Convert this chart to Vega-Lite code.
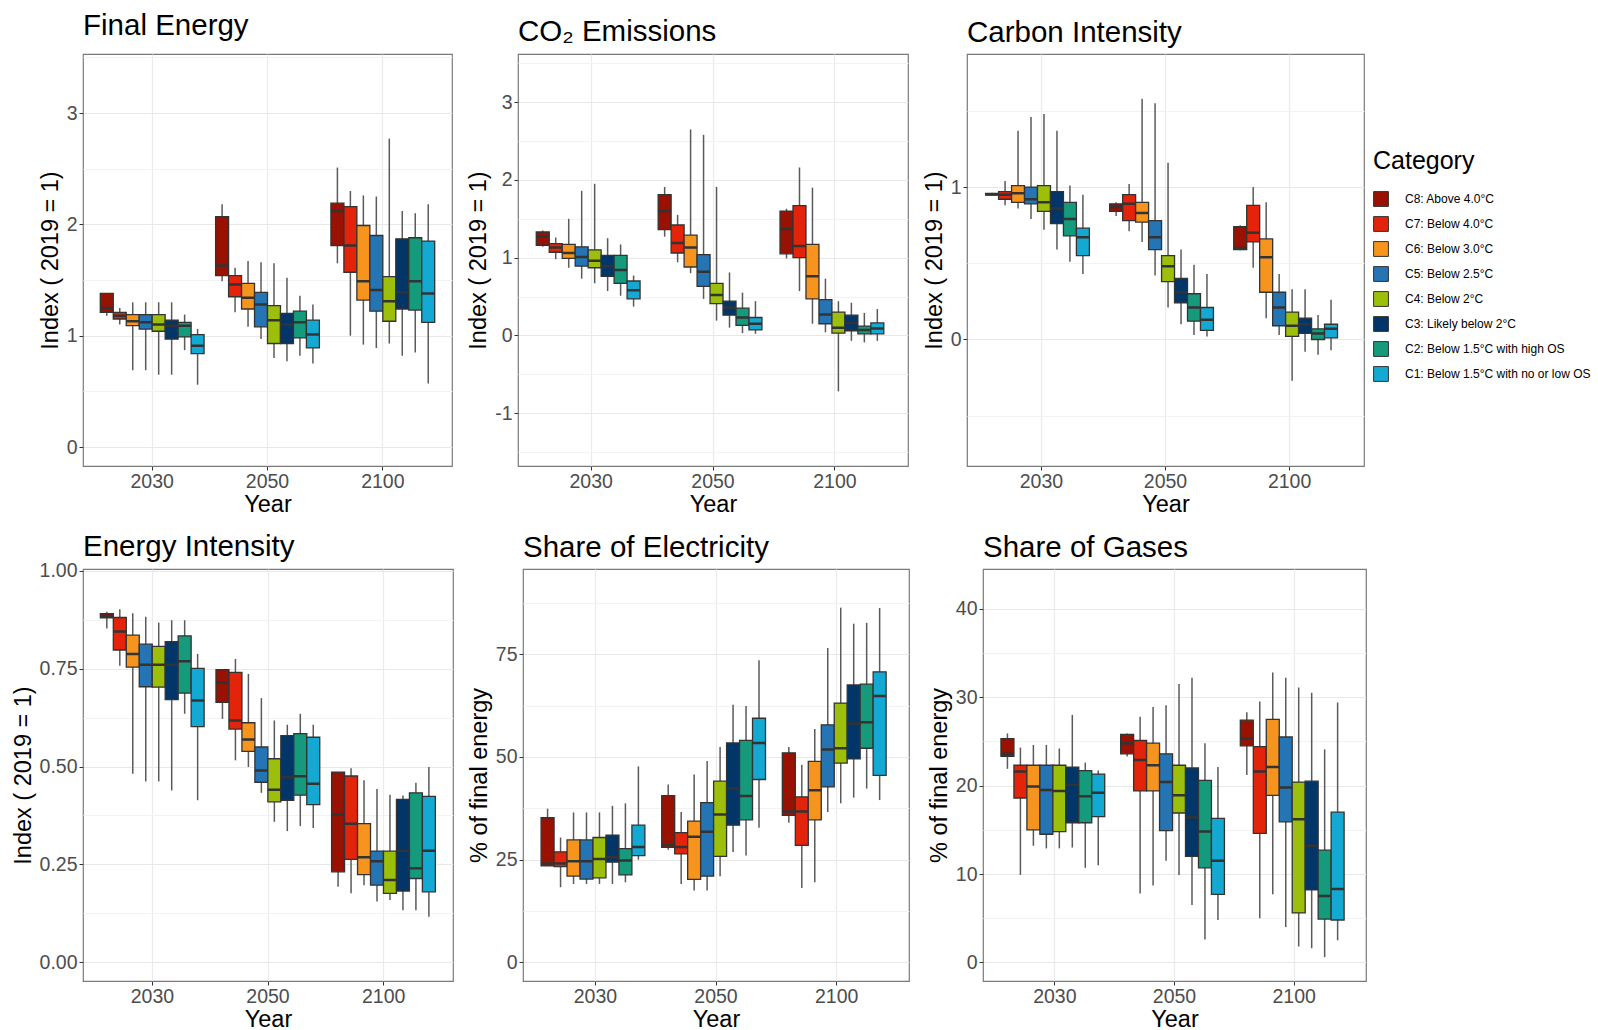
{
"$schema":"https://vega.github.io/schema/vega-lite/v6.json",
"padding":{"left":10,"top":10,"right":0,"bottom":0},
"background":"white",
"config":{
 "font":"Liberation Sans",
 "view":{"stroke":"#7a7a7a","strokeWidth":1.2},
 "axis":{"labelFont":"Liberation Sans","titleFont":"Liberation Sans","labelFontSize":19.5,"titleFontSize":23.5,"labelColor":"#4d4d4d","titleColor":"#000000","titleFontWeight":"normal","tickColor":"#333333","tickSize":4,"domain":false,"gridColor":"#ebebeb","gridWidth":1.2,"labelPadding":2},
 "axisX":{"titlePadding":2,"labelAngle":0},
 "axisY":{"titlePadding":4,"labelOverlap":false},
 "title":{"font":"Liberation Sans","fontSize":29.5,"fontWeight":"normal","anchor":"start","frame":"group","color":"#000000","offset":6},
 "legend":{"titleFont":"Liberation Sans","labelFont":"Liberation Sans","titleFontSize":25,"titleFontWeight":"normal","labelFontSize":12,"labelLimit":400,"labelColor":"#000000","titleColor":"#000000"}
},
"datasets":{
"fe":[
{"year":"2030","category":"C8: Above 4.0°C","min":1.18,"q1":1.21,"median":1.25,"q3":1.38,"max":1.38},
{"year":"2030","category":"C7: Below 4.0°C","min":1.10,"q1":1.15,"median":1.18,"q3":1.21,"max":1.25},
{"year":"2030","category":"C6: Below 3.0°C","min":0.69,"q1":1.09,"median":1.13,"q3":1.19,"max":1.30},
{"year":"2030","category":"C5: Below 2.5°C","min":0.69,"q1":1.06,"median":1.12,"q3":1.19,"max":1.30},
{"year":"2030","category":"C4: Below 2°C","min":0.65,"q1":1.04,"median":1.10,"q3":1.19,"max":1.30},
{"year":"2030","category":"C3: Likely below 2°C","min":0.65,"q1":0.97,"median":1.09,"q3":1.14,"max":1.30},
{"year":"2030","category":"C2: Below 1.5°C with high OS","min":0.87,"q1":0.99,"median":1.09,"q3":1.12,"max":1.19},
{"year":"2030","category":"C1: Below 1.5°C with no or low OS","min":0.56,"q1":0.84,"median":0.91,"q3":1.01,"max":1.06},
{"year":"2050","category":"C8: Above 4.0°C","min":1.49,"q1":1.54,"median":1.63,"q3":2.07,"max":2.18},
{"year":"2050","category":"C7: Below 4.0°C","min":1.21,"q1":1.35,"median":1.46,"q3":1.54,"max":1.61},
{"year":"2050","category":"C6: Below 3.0°C","min":1.08,"q1":1.24,"median":1.34,"q3":1.47,"max":1.67},
{"year":"2050","category":"C5: Below 2.5°C","min":0.97,"q1":1.08,"median":1.28,"q3":1.39,"max":1.66},
{"year":"2050","category":"C4: Below 2°C","min":0.80,"q1":0.93,"median":1.14,"q3":1.27,"max":1.65},
{"year":"2050","category":"C3: Likely below 2°C","min":0.77,"q1":0.93,"median":1.10,"q3":1.20,"max":1.52},
{"year":"2050","category":"C2: Below 1.5°C with high OS","min":0.82,"q1":0.98,"median":1.12,"q3":1.22,"max":1.36},
{"year":"2050","category":"C1: Below 1.5°C with no or low OS","min":0.75,"q1":0.89,"median":1.01,"q3":1.14,"max":1.28},
{"year":"2100","category":"C8: Above 4.0°C","min":1.65,"q1":1.81,"median":2.12,"q3":2.19,"max":2.51},
{"year":"2100","category":"C7: Below 4.0°C","min":1.00,"q1":1.57,"median":1.81,"q3":2.16,"max":2.30},
{"year":"2100","category":"C6: Below 3.0°C","min":0.92,"q1":1.32,"median":1.49,"q3":1.99,"max":2.26},
{"year":"2100","category":"C5: Below 2.5°C","min":0.89,"q1":1.22,"median":1.41,"q3":1.90,"max":2.25},
{"year":"2100","category":"C4: Below 2°C","min":0.93,"q1":1.13,"median":1.31,"q3":1.53,"max":2.77},
{"year":"2100","category":"C3: Likely below 2°C","min":0.82,"q1":1.24,"median":1.39,"q3":1.87,"max":2.12},
{"year":"2100","category":"C2: Below 1.5°C with high OS","min":0.85,"q1":1.23,"median":1.49,"q3":1.88,"max":2.10},
{"year":"2100","category":"C1: Below 1.5°C with no or low OS","min":0.57,"q1":1.12,"median":1.38,"q3":1.85,"max":2.18}
],
"co2":[
{"year":"2030","category":"C8: Above 4.0°C","min":1.14,"q1":1.16,"median":1.27,"q3":1.33,"max":1.35},
{"year":"2030","category":"C7: Below 4.0°C","min":0.98,"q1":1.07,"median":1.13,"q3":1.18,"max":1.26},
{"year":"2030","category":"C6: Below 3.0°C","min":0.87,"q1":0.99,"median":1.06,"q3":1.17,"max":1.50},
{"year":"2030","category":"C5: Below 2.5°C","min":0.73,"q1":0.89,"median":1.01,"q3":1.14,"max":1.86},
{"year":"2030","category":"C4: Below 2°C","min":0.67,"q1":0.87,"median":0.96,"q3":1.10,"max":1.95},
{"year":"2030","category":"C3: Likely below 2°C","min":0.57,"q1":0.76,"median":0.89,"q3":1.03,"max":1.25},
{"year":"2030","category":"C2: Below 1.5°C with high OS","min":0.51,"q1":0.67,"median":0.84,"q3":1.03,"max":1.17},
{"year":"2030","category":"C1: Below 1.5°C with no or low OS","min":0.37,"q1":0.47,"median":0.58,"q3":0.70,"max":0.77},
{"year":"2050","category":"C8: Above 4.0°C","min":1.27,"q1":1.36,"median":1.60,"q3":1.81,"max":1.91},
{"year":"2050","category":"C7: Below 4.0°C","min":0.94,"q1":1.06,"median":1.19,"q3":1.42,"max":1.55},
{"year":"2050","category":"C6: Below 3.0°C","min":0.80,"q1":0.88,"median":1.13,"q3":1.29,"max":2.65},
{"year":"2050","category":"C5: Below 2.5°C","min":0.47,"q1":0.63,"median":0.82,"q3":1.04,"max":2.58},
{"year":"2050","category":"C4: Below 2°C","min":0.19,"q1":0.41,"median":0.52,"q3":0.67,"max":1.91},
{"year":"2050","category":"C3: Likely below 2°C","min":0.10,"q1":0.26,"median":0.36,"q3":0.44,"max":0.81},
{"year":"2050","category":"C2: Below 1.5°C with high OS","min":0.03,"q1":0.13,"median":0.23,"q3":0.35,"max":0.55},
{"year":"2050","category":"C1: Below 1.5°C with no or low OS","min":0.02,"q1":0.07,"median":0.15,"q3":0.23,"max":0.44},
{"year":"2100","category":"C8: Above 4.0°C","min":0.99,"q1":1.05,"median":1.37,"q3":1.60,"max":1.63},
{"year":"2100","category":"C7: Below 4.0°C","min":0.57,"q1":1.00,"median":1.15,"q3":1.67,"max":2.16},
{"year":"2100","category":"C6: Below 3.0°C","min":0.15,"q1":0.47,"median":0.76,"q3":1.17,"max":1.90},
{"year":"2100","category":"C5: Below 2.5°C","min":0.04,"q1":0.15,"median":0.27,"q3":0.46,"max":0.73},
{"year":"2100","category":"C4: Below 2°C","min":-0.72,"q1":0.03,"median":0.10,"q3":0.30,"max":0.44},
{"year":"2100","category":"C3: Likely below 2°C","min":-0.07,"q1":0.06,"median":0.16,"q3":0.26,"max":0.42},
{"year":"2100","category":"C2: Below 1.5°C with high OS","min":-0.09,"q1":0.02,"median":0.07,"q3":0.12,"max":0.29},
{"year":"2100","category":"C1: Below 1.5°C with no or low OS","min":-0.07,"q1":0.02,"median":0.09,"q3":0.16,"max":0.34}
],
"ci":[
{"year":"2030","category":"C8: Above 4.0°C","min":0.945,"q1":0.948,"median":0.953,"q3":0.958,"max":0.962},
{"year":"2030","category":"C7: Below 4.0°C","min":0.88,"q1":0.92,"median":0.95,"q3":0.97,"max":1.04},
{"year":"2030","category":"C6: Below 3.0°C","min":0.86,"q1":0.90,"median":0.96,"q3":1.01,"max":1.37},
{"year":"2030","category":"C5: Below 2.5°C","min":0.79,"q1":0.89,"median":0.92,"q3":1.00,"max":1.46},
{"year":"2030","category":"C4: Below 2°C","min":0.72,"q1":0.84,"median":0.90,"q3":1.01,"max":1.48},
{"year":"2030","category":"C3: Likely below 2°C","min":0.59,"q1":0.76,"median":0.86,"q3":0.97,"max":1.37},
{"year":"2030","category":"C2: Below 1.5°C with high OS","min":0.51,"q1":0.68,"median":0.79,"q3":0.90,"max":1.01},
{"year":"2030","category":"C1: Below 1.5°C with no or low OS","min":0.43,"q1":0.55,"median":0.67,"q3":0.73,"max":0.95},
{"year":"2050","category":"C8: Above 4.0°C","min":0.81,"q1":0.84,"median":0.87,"q3":0.89,"max":0.90},
{"year":"2050","category":"C7: Below 4.0°C","min":0.71,"q1":0.78,"median":0.89,"q3":0.95,"max":1.02},
{"year":"2050","category":"C6: Below 3.0°C","min":0.64,"q1":0.77,"median":0.83,"q3":0.90,"max":1.58},
{"year":"2050","category":"C5: Below 2.5°C","min":0.42,"q1":0.59,"median":0.67,"q3":0.78,"max":1.55},
{"year":"2050","category":"C4: Below 2°C","min":0.21,"q1":0.38,"median":0.48,"q3":0.55,"max":1.16},
{"year":"2050","category":"C3: Likely below 2°C","min":0.10,"q1":0.24,"median":0.31,"q3":0.40,"max":0.59},
{"year":"2050","category":"C2: Below 1.5°C with high OS","min":0.03,"q1":0.12,"median":0.21,"q3":0.30,"max":0.49},
{"year":"2050","category":"C1: Below 1.5°C with no or low OS","min":0.02,"q1":0.06,"median":0.13,"q3":0.21,"max":0.43},
{"year":"2100","category":"C8: Above 4.0°C","min":0.585,"q1":0.59,"median":0.60,"q3":0.74,"max":0.75},
{"year":"2100","category":"C7: Below 4.0°C","min":0.47,"q1":0.64,"median":0.70,"q3":0.88,"max":1.00},
{"year":"2100","category":"C6: Below 3.0°C","min":0.14,"q1":0.31,"median":0.54,"q3":0.66,"max":0.90},
{"year":"2100","category":"C5: Below 2.5°C","min":0.03,"q1":0.09,"median":0.21,"q3":0.31,"max":0.43},
{"year":"2100","category":"C4: Below 2°C","min":-0.27,"q1":0.02,"median":0.09,"q3":0.18,"max":0.33},
{"year":"2100","category":"C3: Likely below 2°C","min":-0.08,"q1":0.04,"median":0.10,"q3":0.14,"max":0.33},
{"year":"2100","category":"C2: Below 1.5°C with high OS","min":-0.10,"q1":0.00,"median":0.04,"q3":0.07,"max":0.16},
{"year":"2100","category":"C1: Below 1.5°C with no or low OS","min":-0.07,"q1":0.01,"median":0.07,"q3":0.10,"max":0.26}
],
"ei":[
{"year":"2030","category":"C8: Above 4.0°C","min":0.853,"q1":0.880,"median":0.885,"q3":0.891,"max":0.896},
{"year":"2030","category":"C7: Below 4.0°C","min":0.758,"q1":0.798,"median":0.845,"q3":0.881,"max":0.902},
{"year":"2030","category":"C6: Below 3.0°C","min":0.482,"q1":0.754,"median":0.788,"q3":0.836,"max":0.892},
{"year":"2030","category":"C5: Below 2.5°C","min":0.462,"q1":0.704,"median":0.760,"q3":0.813,"max":0.883},
{"year":"2030","category":"C4: Below 2°C","min":0.462,"q1":0.703,"median":0.760,"q3":0.807,"max":0.868},
{"year":"2030","category":"C3: Likely below 2°C","min":0.439,"q1":0.671,"median":0.760,"q3":0.819,"max":0.874},
{"year":"2030","category":"C2: Below 1.5°C with high OS","min":0.635,"q1":0.688,"median":0.769,"q3":0.834,"max":0.874},
{"year":"2030","category":"C1: Below 1.5°C with no or low OS","min":0.414,"q1":0.602,"median":0.669,"q3":0.751,"max":0.788},
{"year":"2050","category":"C8: Above 4.0°C","min":0.622,"q1":0.664,"median":0.715,"q3":0.748,"max":0.749},
{"year":"2050","category":"C7: Below 4.0°C","min":0.516,"q1":0.596,"median":0.618,"q3":0.741,"max":0.775},
{"year":"2050","category":"C6: Below 3.0°C","min":0.499,"q1":0.539,"median":0.569,"q3":0.612,"max":0.737},
{"year":"2050","category":"C5: Below 2.5°C","min":0.433,"q1":0.460,"median":0.490,"q3":0.550,"max":0.675},
{"year":"2050","category":"C4: Below 2°C","min":0.359,"q1":0.410,"median":0.441,"q3":0.520,"max":0.618},
{"year":"2050","category":"C3: Likely below 2°C","min":0.335,"q1":0.414,"median":0.473,"q3":0.579,"max":0.607},
{"year":"2050","category":"C2: Below 1.5°C with high OS","min":0.348,"q1":0.427,"median":0.475,"q3":0.584,"max":0.635},
{"year":"2050","category":"C1: Below 1.5°C with no or low OS","min":0.343,"q1":0.403,"median":0.456,"q3":0.575,"max":0.607},
{"year":"2100","category":"C8: Above 4.0°C","min":0.193,"q1":0.231,"median":0.377,"q3":0.486,"max":0.486},
{"year":"2100","category":"C7: Below 4.0°C","min":0.176,"q1":0.263,"median":0.354,"q3":0.476,"max":0.496},
{"year":"2100","category":"C6: Below 3.0°C","min":0.197,"q1":0.224,"median":0.268,"q3":0.354,"max":0.465},
{"year":"2100","category":"C5: Below 2.5°C","min":0.155,"q1":0.197,"median":0.258,"q3":0.284,"max":0.443},
{"year":"2100","category":"C4: Below 2°C","min":0.159,"q1":0.176,"median":0.210,"q3":0.284,"max":0.428},
{"year":"2100","category":"C3: Likely below 2°C","min":0.133,"q1":0.182,"median":0.285,"q3":0.416,"max":0.426},
{"year":"2100","category":"C2: Below 1.5°C with high OS","min":0.133,"q1":0.214,"median":0.240,"q3":0.433,"max":0.459},
{"year":"2100","category":"C1: Below 1.5°C with no or low OS","min":0.116,"q1":0.180,"median":0.285,"q3":0.424,"max":0.499}
],
"se":[
{"year":"2030","category":"C8: Above 4.0°C","min":23.5,"q1":23.5,"median":24.1,"q3":35.2,"max":37.4},
{"year":"2030","category":"C7: Below 4.0°C","min":18.3,"q1":23.3,"median":24.1,"q3":26.9,"max":30.4},
{"year":"2030","category":"C6: Below 3.0°C","min":19.1,"q1":21.0,"median":24.6,"q3":29.8,"max":36.5},
{"year":"2030","category":"C5: Below 2.5°C","min":19.1,"q1":20.3,"median":24.6,"q3":29.8,"max":36.5},
{"year":"2030","category":"C4: Below 2°C","min":19.1,"q1":20.6,"median":25.2,"q3":30.4,"max":36.5},
{"year":"2030","category":"C3: Likely below 2°C","min":19.1,"q1":24.4,"median":25.6,"q3":31.0,"max":38.1},
{"year":"2030","category":"C2: Below 1.5°C with high OS","min":19.5,"q1":21.3,"median":24.8,"q3":27.7,"max":38.7},
{"year":"2030","category":"C1: Below 1.5°C with no or low OS","min":25.0,"q1":26.0,"median":28.1,"q3":33.4,"max":47.7},
{"year":"2050","category":"C8: Above 4.0°C","min":27.4,"q1":28.0,"median":28.5,"q3":40.6,"max":43.3},
{"year":"2050","category":"C7: Below 4.0°C","min":19.1,"q1":26.4,"median":28.1,"q3":31.6,"max":36.6},
{"year":"2050","category":"C6: Below 3.0°C","min":17.5,"q1":20.2,"median":30.6,"q3":34.4,"max":45.7},
{"year":"2050","category":"C5: Below 2.5°C","min":17.5,"q1":21.0,"median":31.8,"q3":38.9,"max":49.0},
{"year":"2050","category":"C4: Below 2°C","min":21.0,"q1":25.8,"median":36.0,"q3":44.1,"max":52.4},
{"year":"2050","category":"C3: Likely below 2°C","min":26.9,"q1":33.4,"median":42.3,"q3":53.4,"max":62.7},
{"year":"2050","category":"C2: Below 1.5°C with high OS","min":26.0,"q1":34.7,"median":40.5,"q3":54.0,"max":62.4},
{"year":"2050","category":"C1: Below 1.5°C with no or low OS","min":32.8,"q1":44.5,"median":53.4,"q3":59.4,"max":73.5},
{"year":"2100","category":"C8: Above 4.0°C","min":34.0,"q1":35.8,"median":36.7,"q3":51.0,"max":52.4},
{"year":"2100","category":"C7: Below 4.0°C","min":18.1,"q1":28.5,"median":36.7,"q3":40.3,"max":48.1},
{"year":"2100","category":"C6: Below 3.0°C","min":19.5,"q1":34.7,"median":41.9,"q3":48.9,"max":56.8},
{"year":"2100","category":"C5: Below 2.5°C","min":36.6,"q1":42.7,"median":51.8,"q3":57.8,"max":76.5},
{"year":"2100","category":"C4: Below 2°C","min":38.7,"q1":48.5,"median":52.1,"q3":63.1,"max":86.3},
{"year":"2100","category":"C3: Likely below 2°C","min":40.1,"q1":49.5,"median":58.1,"q3":67.5,"max":82.4},
{"year":"2100","category":"C2: Below 1.5°C with high OS","min":42.3,"q1":52.1,"median":58.4,"q3":67.7,"max":82.6},
{"year":"2100","category":"C1: Below 1.5°C with no or low OS","min":39.5,"q1":45.5,"median":64.8,"q3":70.7,"max":86.2}
],
"sg":[
{"year":"2030","category":"C8: Above 4.0°C","min":21.9,"q1":23.3,"median":23.6,"q3":25.3,"max":25.9},
{"year":"2030","category":"C7: Below 4.0°C","min":9.9,"q1":18.6,"median":21.6,"q3":22.3,"max":24.3},
{"year":"2030","category":"C6: Below 3.0°C","min":13.2,"q1":15.0,"median":19.9,"q3":22.3,"max":24.6},
{"year":"2030","category":"C5: Below 2.5°C","min":12.9,"q1":14.5,"median":19.5,"q3":22.3,"max":24.6},
{"year":"2030","category":"C4: Below 2°C","min":12.9,"q1":14.8,"median":19.4,"q3":22.3,"max":24.2},
{"year":"2030","category":"C3: Likely below 2°C","min":13.0,"q1":15.8,"median":20.1,"q3":22.1,"max":28.0},
{"year":"2030","category":"C2: Below 1.5°C with high OS","min":10.7,"q1":15.8,"median":18.8,"q3":21.7,"max":22.6},
{"year":"2030","category":"C1: Below 1.5°C with no or low OS","min":11.0,"q1":16.5,"median":19.2,"q3":21.3,"max":21.7},
{"year":"2050","category":"C8: Above 4.0°C","min":23.3,"q1":23.6,"median":24.8,"q3":25.8,"max":25.9},
{"year":"2050","category":"C7: Below 4.0°C","min":7.8,"q1":19.4,"median":22.9,"q3":25.1,"max":27.8},
{"year":"2050","category":"C6: Below 3.0°C","min":8.7,"q1":19.4,"median":22.3,"q3":24.8,"max":28.9},
{"year":"2050","category":"C5: Below 2.5°C","min":11.5,"q1":14.9,"median":20.4,"q3":23.6,"max":29.1},
{"year":"2050","category":"C4: Below 2°C","min":9.9,"q1":16.9,"median":18.9,"q3":22.3,"max":31.5},
{"year":"2050","category":"C3: Likely below 2°C","min":6.5,"q1":12.0,"median":16.4,"q3":22.0,"max":32.2},
{"year":"2050","category":"C2: Below 1.5°C with high OS","min":2.6,"q1":10.7,"median":14.8,"q3":20.6,"max":24.8},
{"year":"2050","category":"C1: Below 1.5°C with no or low OS","min":4.8,"q1":7.7,"median":11.5,"q3":16.3,"max":22.1},
{"year":"2100","category":"C8: Above 4.0°C","min":21.2,"q1":24.5,"median":25.3,"q3":27.4,"max":28.3},
{"year":"2100","category":"C7: Below 4.0°C","min":5.0,"q1":14.6,"median":21.6,"q3":24.4,"max":29.5},
{"year":"2100","category":"C6: Below 3.0°C","min":7.7,"q1":18.9,"median":22.1,"q3":27.5,"max":32.8},
{"year":"2100","category":"C5: Below 2.5°C","min":4.0,"q1":15.9,"median":19.8,"q3":25.5,"max":32.2},
{"year":"2100","category":"C4: Below 2°C","min":1.8,"q1":5.6,"median":16.2,"q3":20.4,"max":31.1},
{"year":"2100","category":"C3: Likely below 2°C","min":1.6,"q1":8.2,"median":13.2,"q3":20.5,"max":30.5},
{"year":"2100","category":"C2: Below 1.5°C with high OS","min":0.6,"q1":4.9,"median":7.5,"q3":12.7,"max":24.1},
{"year":"2100","category":"C1: Below 1.5°C with no or low OS","min":2.5,"q1":4.8,"median":8.3,"q3":17.0,"max":29.4}
]
},
"columns":3,
"align":"none",
"spacing":{"row":14,"column":12},
"concat":[
{"title":"Final Energy","width":369,"height":412,"data":{"name":"fe"},
 "encoding":{"x":{"field":"year","type":"nominal","title":"Year","scale":{"paddingInner":0.1,"paddingOuter":0.15},"axis":{"bandPosition":0.5,"grid":true}},
  "xOffset":{"field":"category","type":"nominal","scale":{"domain":["C8: Above 4.0°C","C7: Below 4.0°C","C6: Below 3.0°C","C5: Below 2.5°C","C4: Below 2°C","C3: Likely below 2°C","C2: Below 1.5°C with high OS","C1: Below 1.5°C with no or low OS"],"paddingInner":0,"paddingOuter":0}}},
 "layer":[
  {"mark":{"type":"rule","color":"#5a5a5a","strokeWidth":1.5},"encoding":{"y":{"field":"min","type":"quantitative","title":"Index ( 2019 = 1)","scale":{"domain":[-0.17,3.53],"nice":false,"zero":false},"axis":{"values":[0,0.5,1,1.5,2,2.5,3,3.5],"labelExpr":"datum.value % 1 === 0 ? '' + datum.value : ''","gridColor":{"condition":{"test":"datum.value % 1 === 0","value":"#e8e8e8"},"value":"#f3f3f3"},"tickOpacity":{"condition":{"test":"datum.value % 1 === 0","value":1},"value":0}}},"y2":{"field":"max"}}},
  {"mark":{"type":"bar","stroke":"#333333","strokeWidth":1.3},"encoding":{"y":{"field":"q1","type":"quantitative","title":"Index ( 2019 = 1)"},"y2":{"field":"q3"},"color":{"field":"category","type":"nominal","scale":{"domain":["C8: Above 4.0°C","C7: Below 4.0°C","C6: Below 3.0°C","C5: Below 2.5°C","C4: Below 2°C","C3: Likely below 2°C","C2: Below 1.5°C with high OS","C1: Below 1.5°C with no or low OS"],"range":["#991100","#e3230a","#f7941d","#2574b3","#9bbf0b","#023669","#159a7b","#14a9d2"]},"legend":{"title":"Category","orient":"none","legendX":1290,"legendY":95,"symbolType":"square","symbolSize":220,"symbolStrokeColor":"#333333","symbolStrokeWidth":1,"rowPadding":5,"labelOffset":16,"titlePadding":17}}}},
  {"mark":{"type":"bar","fill":"#333333","stroke":"#333333","strokeWidth":2.5},"encoding":{"y":{"field":"median","type":"quantitative","title":"Index ( 2019 = 1)"},"y2":{"field":"median"}}}
 ]},
{"title":"CO₂ Emissions","width":390,"height":412,"data":{"name":"co2"},
 "encoding":{"x":{"field":"year","type":"nominal","title":"Year","scale":{"paddingInner":0.1,"paddingOuter":0.15},"axis":{"bandPosition":0.5,"grid":true}},
  "xOffset":{"field":"category","type":"nominal","scale":{"domain":["C8: Above 4.0°C","C7: Below 4.0°C","C6: Below 3.0°C","C5: Below 2.5°C","C4: Below 2°C","C3: Likely below 2°C","C2: Below 1.5°C with high OS","C1: Below 1.5°C with no or low OS"],"paddingInner":0,"paddingOuter":0}}},
 "layer":[
  {"mark":{"type":"rule","color":"#5a5a5a","strokeWidth":1.5},"encoding":{"y":{"field":"min","type":"quantitative","title":"Index ( 2019 = 1)","scale":{"domain":[-1.68,3.62],"nice":false,"zero":false},"axis":{"values":[-1.5,-1,-0.5,0,0.5,1,1.5,2,2.5,3,3.5],"labelExpr":"datum.value % 1 === 0 ? '' + datum.value : ''","gridColor":{"condition":{"test":"datum.value % 1 === 0","value":"#e8e8e8"},"value":"#f3f3f3"},"tickOpacity":{"condition":{"test":"datum.value % 1 === 0","value":1},"value":0}}},"y2":{"field":"max"}}},
  {"mark":{"type":"bar","stroke":"#333333","strokeWidth":1.3},"encoding":{"y":{"field":"q1","type":"quantitative","title":"Index ( 2019 = 1)"},"y2":{"field":"q3"},"color":{"field":"category","type":"nominal","scale":{"domain":["C8: Above 4.0°C","C7: Below 4.0°C","C6: Below 3.0°C","C5: Below 2.5°C","C4: Below 2°C","C3: Likely below 2°C","C2: Below 1.5°C with high OS","C1: Below 1.5°C with no or low OS"],"range":["#991100","#e3230a","#f7941d","#2574b3","#9bbf0b","#023669","#159a7b","#14a9d2"]},"legend":{"title":"Category","orient":"none","legendX":1290,"legendY":95,"symbolType":"square","symbolSize":220,"symbolStrokeColor":"#333333","symbolStrokeWidth":1,"rowPadding":5,"labelOffset":16,"titlePadding":17}}}},
  {"mark":{"type":"bar","fill":"#333333","stroke":"#333333","strokeWidth":2.5},"encoding":{"y":{"field":"median","type":"quantitative","title":"Index ( 2019 = 1)"},"y2":{"field":"median"}}}
 ]},
{"title":"Carbon Intensity","width":397,"height":412,"data":{"name":"ci"},
 "encoding":{"x":{"field":"year","type":"nominal","title":"Year","scale":{"paddingInner":0.1,"paddingOuter":0.15},"axis":{"bandPosition":0.5,"grid":true}},
  "xOffset":{"field":"category","type":"nominal","scale":{"domain":["C8: Above 4.0°C","C7: Below 4.0°C","C6: Below 3.0°C","C5: Below 2.5°C","C4: Below 2°C","C3: Likely below 2°C","C2: Below 1.5°C with high OS","C1: Below 1.5°C with no or low OS"],"paddingInner":0,"paddingOuter":0}}},
 "layer":[
  {"mark":{"type":"rule","color":"#5a5a5a","strokeWidth":1.5},"encoding":{"y":{"field":"min","type":"quantitative","title":"Index ( 2019 = 1)","scale":{"domain":[-0.83,1.873],"nice":false,"zero":false},"axis":{"values":[-0.5,0,0.5,1,1.5],"labelExpr":"datum.value % 1 === 0 ? '' + datum.value : ''","gridColor":{"condition":{"test":"datum.value % 1 === 0","value":"#e8e8e8"},"value":"#f3f3f3"},"tickOpacity":{"condition":{"test":"datum.value % 1 === 0","value":1},"value":0}}},"y2":{"field":"max"}}},
  {"mark":{"type":"bar","stroke":"#333333","strokeWidth":1.3},"encoding":{"y":{"field":"q1","type":"quantitative","title":"Index ( 2019 = 1)"},"y2":{"field":"q3"},"color":{"field":"category","type":"nominal","scale":{"domain":["C8: Above 4.0°C","C7: Below 4.0°C","C6: Below 3.0°C","C5: Below 2.5°C","C4: Below 2°C","C3: Likely below 2°C","C2: Below 1.5°C with high OS","C1: Below 1.5°C with no or low OS"],"range":["#991100","#e3230a","#f7941d","#2574b3","#9bbf0b","#023669","#159a7b","#14a9d2"]},"legend":{"title":"Category","orient":"none","legendX":1290,"legendY":95,"symbolType":"square","symbolSize":220,"symbolStrokeColor":"#333333","symbolStrokeWidth":1,"rowPadding":5,"labelOffset":16,"titlePadding":17}}}},
  {"mark":{"type":"bar","fill":"#333333","stroke":"#333333","strokeWidth":2.5},"encoding":{"y":{"field":"median","type":"quantitative","title":"Index ( 2019 = 1)"},"y2":{"field":"median"}}}
 ]},
{"title":{"text":"Energy Intensity","offset":-2},"width":370,"height":412,"data":{"name":"ei"},
 "encoding":{"x":{"field":"year","type":"nominal","title":"Year","scale":{"paddingInner":0.1,"paddingOuter":0.15},"axis":{"bandPosition":0.5,"grid":true}},
  "xOffset":{"field":"category","type":"nominal","scale":{"domain":["C8: Above 4.0°C","C7: Below 4.0°C","C6: Below 3.0°C","C5: Below 2.5°C","C4: Below 2°C","C3: Likely below 2°C","C2: Below 1.5°C with high OS","C1: Below 1.5°C with no or low OS"],"paddingInner":0,"paddingOuter":0}}},
 "layer":[
  {"mark":{"type":"rule","color":"#5a5a5a","strokeWidth":1.5},"encoding":{"y":{"field":"min","type":"quantitative","title":"Index ( 2019 = 1)","scale":{"domain":[-0.048,1.005],"nice":false,"zero":false},"axis":{"values":[0,0.125,0.25,0.375,0.5,0.625,0.75,0.875,1],"format":".2f","labelExpr":"(datum.value * 4) % 1 === 0 ? datum.label : ''","gridColor":{"condition":{"test":"(datum.value * 4) % 1 === 0","value":"#e8e8e8"},"value":"#f3f3f3"},"tickOpacity":{"condition":{"test":"(datum.value * 4) % 1 === 0","value":1},"value":0}}},"y2":{"field":"max"}}},
  {"mark":{"type":"bar","stroke":"#333333","strokeWidth":1.3},"encoding":{"y":{"field":"q1","type":"quantitative","title":"Index ( 2019 = 1)"},"y2":{"field":"q3"},"color":{"field":"category","type":"nominal","scale":{"domain":["C8: Above 4.0°C","C7: Below 4.0°C","C6: Below 3.0°C","C5: Below 2.5°C","C4: Below 2°C","C3: Likely below 2°C","C2: Below 1.5°C with high OS","C1: Below 1.5°C with no or low OS"],"range":["#991100","#e3230a","#f7941d","#2574b3","#9bbf0b","#023669","#159a7b","#14a9d2"]},"legend":{"title":"Category","orient":"none","legendX":1290,"legendY":95,"symbolType":"square","symbolSize":220,"symbolStrokeColor":"#333333","symbolStrokeWidth":1,"rowPadding":5,"labelOffset":16,"titlePadding":17}}}},
  {"mark":{"type":"bar","fill":"#333333","stroke":"#333333","strokeWidth":2.5},"encoding":{"y":{"field":"median","type":"quantitative","title":"Index ( 2019 = 1)"},"y2":{"field":"median"}}}
 ]},
{"title":"Share of Electricity","width":386,"height":412,"data":{"name":"se"},
 "encoding":{"x":{"field":"year","type":"nominal","title":"Year","scale":{"paddingInner":0.1,"paddingOuter":0.15},"axis":{"bandPosition":0.5,"grid":true}},
  "xOffset":{"field":"category","type":"nominal","scale":{"domain":["C8: Above 4.0°C","C7: Below 4.0°C","C6: Below 3.0°C","C5: Below 2.5°C","C4: Below 2°C","C3: Likely below 2°C","C2: Below 1.5°C with high OS","C1: Below 1.5°C with no or low OS"],"paddingInner":0,"paddingOuter":0}}},
 "layer":[
  {"mark":{"type":"rule","color":"#5a5a5a","strokeWidth":1.5},"encoding":{"y":{"field":"min","type":"quantitative","title":"% of final energy","scale":{"domain":[-4.5,95.7],"nice":false,"zero":false},"axis":{"values":[0,12.5,25,37.5,50,62.5,75,87.5],"labelExpr":"datum.value % 25 === 0 ? '' + datum.value : ''","gridColor":{"condition":{"test":"datum.value % 25 === 0","value":"#e8e8e8"},"value":"#f3f3f3"},"tickOpacity":{"condition":{"test":"datum.value % 25 === 0","value":1},"value":0}}},"y2":{"field":"max"}}},
  {"mark":{"type":"bar","stroke":"#333333","strokeWidth":1.3},"encoding":{"y":{"field":"q1","type":"quantitative","title":"% of final energy"},"y2":{"field":"q3"},"color":{"field":"category","type":"nominal","scale":{"domain":["C8: Above 4.0°C","C7: Below 4.0°C","C6: Below 3.0°C","C5: Below 2.5°C","C4: Below 2°C","C3: Likely below 2°C","C2: Below 1.5°C with high OS","C1: Below 1.5°C with no or low OS"],"range":["#991100","#e3230a","#f7941d","#2574b3","#9bbf0b","#023669","#159a7b","#14a9d2"]},"legend":{"title":"Category","orient":"none","legendX":1290,"legendY":95,"symbolType":"square","symbolSize":220,"symbolStrokeColor":"#333333","symbolStrokeWidth":1,"rowPadding":5,"labelOffset":16,"titlePadding":17}}}},
  {"mark":{"type":"bar","fill":"#333333","stroke":"#333333","strokeWidth":2.5},"encoding":{"y":{"field":"median","type":"quantitative","title":"% of final energy"},"y2":{"field":"median"}}}
 ]},
{"title":"Share of Gases","width":383,"height":412,"data":{"name":"sg"},
 "encoding":{"x":{"field":"year","type":"nominal","title":"Year","scale":{"paddingInner":0.1,"paddingOuter":0.15},"axis":{"bandPosition":0.5,"grid":true}},
  "xOffset":{"field":"category","type":"nominal","scale":{"domain":["C8: Above 4.0°C","C7: Below 4.0°C","C6: Below 3.0°C","C5: Below 2.5°C","C4: Below 2°C","C3: Likely below 2°C","C2: Below 1.5°C with high OS","C1: Below 1.5°C with no or low OS"],"paddingInner":0,"paddingOuter":0}}},
 "layer":[
  {"mark":{"type":"rule","color":"#5a5a5a","strokeWidth":1.5},"encoding":{"y":{"field":"min","type":"quantitative","title":"% of final energy","scale":{"domain":[-2.1,44.5],"nice":false,"zero":false},"axis":{"values":[0,5,10,15,20,25,30,35,40],"labelExpr":"datum.value % 10 === 0 ? '' + datum.value : ''","gridColor":{"condition":{"test":"datum.value % 10 === 0","value":"#e8e8e8"},"value":"#f3f3f3"},"tickOpacity":{"condition":{"test":"datum.value % 10 === 0","value":1},"value":0}}},"y2":{"field":"max"}}},
  {"mark":{"type":"bar","stroke":"#333333","strokeWidth":1.3},"encoding":{"y":{"field":"q1","type":"quantitative","title":"% of final energy"},"y2":{"field":"q3"},"color":{"field":"category","type":"nominal","scale":{"domain":["C8: Above 4.0°C","C7: Below 4.0°C","C6: Below 3.0°C","C5: Below 2.5°C","C4: Below 2°C","C3: Likely below 2°C","C2: Below 1.5°C with high OS","C1: Below 1.5°C with no or low OS"],"range":["#991100","#e3230a","#f7941d","#2574b3","#9bbf0b","#023669","#159a7b","#14a9d2"]},"legend":{"title":"Category","orient":"none","legendX":1290,"legendY":95,"symbolType":"square","symbolSize":220,"symbolStrokeColor":"#333333","symbolStrokeWidth":1,"rowPadding":5,"labelOffset":16,"titlePadding":17}}}},
  {"mark":{"type":"bar","fill":"#333333","stroke":"#333333","strokeWidth":2.5},"encoding":{"y":{"field":"median","type":"quantitative","title":"% of final energy"},"y2":{"field":"median"}}}
 ]}
]
}
